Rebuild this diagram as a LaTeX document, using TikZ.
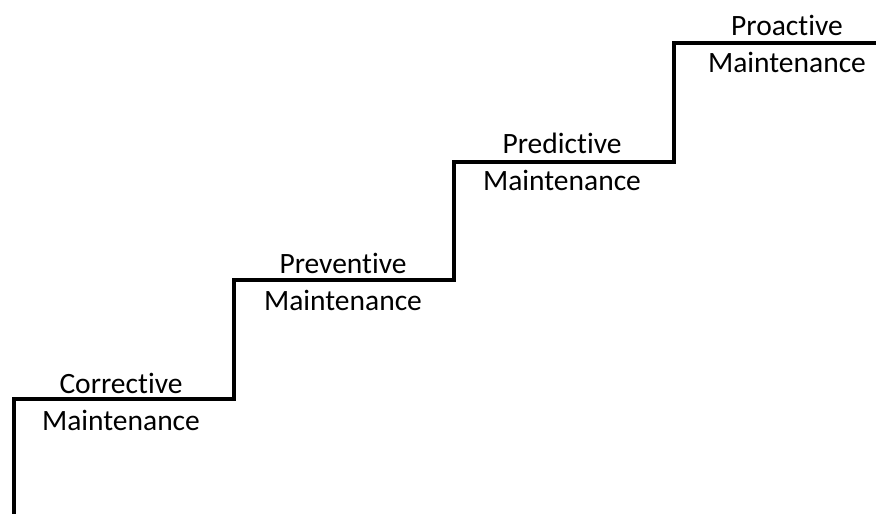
\documentclass[tikz,border=0pt]{standalone}
\usepackage{fontspec}
\setmainfont{Carlito}[RawFeature={-liga;-calt;-dlig;-clig}]
\tikzset{
  stair/.style={line width=3.2pt, line join=miter, line cap=rect},
  lbl/.style={anchor=base, inner sep=0pt, font=\fontsize{29.5}{35}\selectfont}
}
\begin{document}
\begin{tikzpicture}[x=1pt,y=-1pt]
\useasboundingbox (0,0) rectangle (876,514);
\coordinate (s0) at (14,514);
\coordinate (s1) at (14,399);
\coordinate (s2) at (234,399);
\coordinate (s3) at (234,280);
\coordinate (s4) at (454,280);
\coordinate (s5) at (454,162);
\coordinate (s6) at (674,162);
\coordinate (s7) at (674,43);
\coordinate (s8) at (876,43);
\draw[stair] (s0) -- (s1) -- (s2) -- (s3) -- (s4) -- (s5) -- (s6) -- (s7) -- (s8);
\node[lbl] (c1) at (121,393) {Corrective};
\node[lbl] (c2) at (121,430) {Maintenance};
\node[lbl] (v1) at (343,273) {Preventive};
\node[lbl] (v2) at (343,310) {Maintenance};
\node[lbl] (d1) at (562,153) {Predictive};
\node[lbl] (d2) at (562,190) {Maintenance};
\node[lbl] (a1) at (787,35) {Proactive};
\node[lbl] (a2) at (787,72) {Maintenance};
\end{tikzpicture}
\end{document}
